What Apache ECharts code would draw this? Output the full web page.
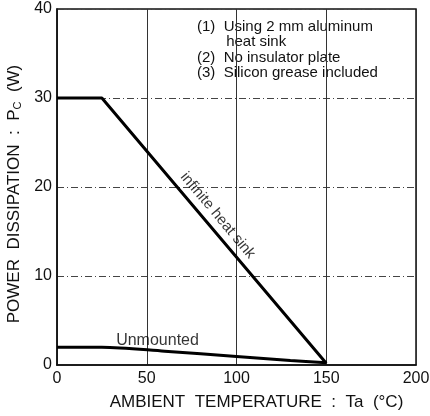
<!DOCTYPE html>
<html>
<head>
<meta charset="utf-8">
<script src="https://cdn.jsdelivr.net/npm/echarts@6/dist/echarts.min.js"></script>
<style>
  html, body { margin: 0; padding: 0; background: #fff; }
  #chart { width: 430px; height: 416px; }
</style>
</head>
<body>
<div id="chart"></div>
<script>
// readings from the derating curve
var xTicks = [0, 50, 100, 150, 200];
var yTicks = [0, 10, 20, 30, 40];
var infiniteSink = [[0, 30], [25, 30], [150, 0.2]];
var unmounted = [[0, 2.0], [25, 2.0], [60, 1.55], [100, 0.95], [130, 0.5], [150, 0.25]];
var notes = ['(1)  Using 2 mm aluminum', '       heat sink', '(2)  No insulator plate', '(3)  Silicon grease included'];
var curveLabels = [
	{ name : 'infinite heat sink', value : [89.5, 16.8], rotate : -50, size : 15 },
	{ name : 'Unmounted', value : [56, 2.75], rotate : 0, size : 16 }
];

var FONT = 'Liberation Sans';
var chart = echarts.init(document.getElementById('chart'));

var option = {
	backgroundColor : '#fff',
	animation : false,
	textStyle : { fontFamily : FONT, color : '#111' },
	grid : {
		left : 57,
		right : 14,
		top : 9,
		bottom : 51,
		outerBoundsMode : 'none',
		show : true,
		borderColor : '#111',
		borderWidth : 1.5
	},
	xAxis : {
		type : 'value',
		min : xTicks[0],
		max : xTicks[xTicks.length - 1],
		interval : 50,
		name : 'AMBIENT  TEMPERATURE  :  Ta  (°C)',
		nameLocation : 'middle',
		nameGap : 29,
		nameTextStyle : { fontSize : 17, color : '#111', fontFamily : FONT, padding : [0, 0, 0, 40] },
		axisLine : { lineStyle : { color : '#111', width : 1.5 } },
		axisTick : { show : false },
		axisLabel : { fontSize : 16, color : '#111', margin : 6, fontFamily : FONT },
		splitLine : { show : true, lineStyle : { color : '#333', width : 1 } }
	},
	yAxis : {
		type : 'value',
		min : yTicks[0],
		max : yTicks[yTicks.length - 1],
		interval : 10,
		name : '{n|POWER  DISSIPATION  :  P}{s|C}{n|  (W)}',
		nameLocation : 'middle',
		nameGap : 28,
		nameRotate : 90,
		nameTextStyle : {
			padding : [0, 14, 0, 0],
			rich : {
				n : { fontSize : 17, color : '#111', fontFamily : FONT },
				s : { fontSize : 11, color : '#111', fontFamily : FONT, verticalAlign : 'bottom', padding : [7, 0, 0, 0] }
			}
		},
		axisLine : { lineStyle : { color : '#111', width : 1.5 } },
		axisTick : { show : false },
		axisLabel : { fontSize : 16, color : '#111', margin : 5, fontFamily : FONT },
		splitLine : { show : true, lineStyle : { color : '#444', width : 1, type : [7, 3, 1, 3] } }
	},
	graphic : [{
		type : 'text',
		left : 197,
		top : 19,
		style : {
			text : notes.join('\n'),
			font : '15px "Liberation Sans"',
			lineHeight : 15.5,
			fill : '#111'
		}
	}],
	series : [{
		name : 'infinite heat sink',
		type : 'line',
		data : infiniteSink,
		symbol : 'none',
		lineStyle : { color : '#000', width : 3 }
	}, {
		name : 'Unmounted',
		type : 'line',
		data : unmounted,
		symbol : 'none',
		smooth : 0.3,
		lineStyle : { color : '#000', width : 3 }
	}, {
		type : 'scatter',
		symbolSize : 0,
		data : curveLabels.map(function(d) {
			return {
				name : d.name,
				value : d.value,
				label : { rotate : d.rotate, fontSize : d.size }
			};
		}),
		label : {
			show : true,
			position : 'inside',
			formatter : '{b}',
			color : '#000',
			fontFamily : FONT
		}
	}]
};
chart.setOption(option);
</script>
</body>
</html>
